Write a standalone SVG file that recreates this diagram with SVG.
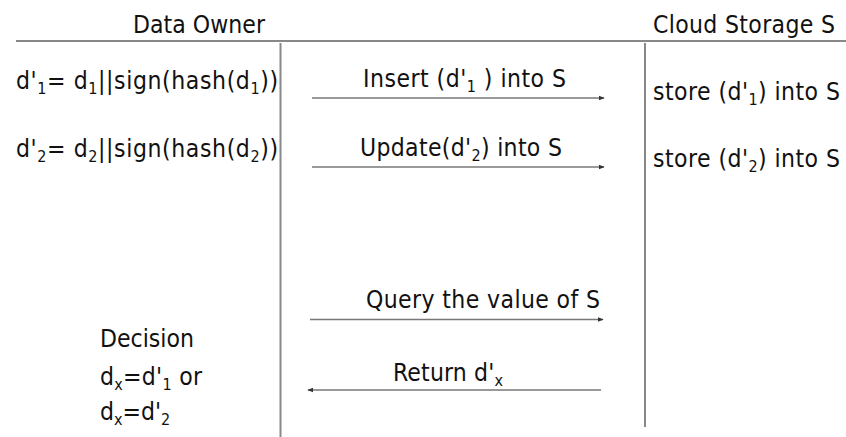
<svg xmlns="http://www.w3.org/2000/svg" width="846" height="437" viewBox="0 0 846 437">
<style>
text{font-family:"DejaVu Sans Condensed","DejaVu Sans",sans-serif;font-size:24.5px;fill:#111}
.sub{font-size:16px}
.ln{stroke:#888;stroke-width:2;fill:none}
.ar{stroke:#777;stroke-width:1.5;fill:none;marker-end:url(#ah)}
</style>
<defs>
<marker id="ah" viewBox="0 0 10 10" refX="9" refY="5" markerWidth="6" markerHeight="6" markerUnits="userSpaceOnUse" orient="auto"><path d="M0,1 L10,5 L0,9 z" fill="#333"/></marker>
</defs>
<g id="frame">
<line class="ln" x1="16" y1="41" x2="846" y2="41"/>
<line class="ln" x1="280.5" y1="43" x2="280.5" y2="437"/>
<line class="ln" x1="645" y1="43" x2="645" y2="427"/>
</g>
<g id="data-owner">
<text x="133" y="33" textLength="132" lengthAdjust="spacing">Data Owner</text>
<text x="16" y="89" textLength="262" lengthAdjust="spacing">d'<tspan class="sub" dy="5">1</tspan><tspan dy="-5">= d</tspan><tspan class="sub" dy="5">1</tspan><tspan dy="-5">||sign(hash(d</tspan><tspan class="sub" dy="5">1</tspan><tspan dy="-5">))</tspan></text>
<text x="16" y="157" textLength="262" lengthAdjust="spacing">d'<tspan class="sub" dy="5">2</tspan><tspan dy="-5">= d</tspan><tspan class="sub" dy="5">2</tspan><tspan dy="-5">||sign(hash(d</tspan><tspan class="sub" dy="5">2</tspan><tspan dy="-5">))</tspan></text>
</g>
<g id="decision">
<text x="100" y="347">Decision</text>
<text x="100" y="385" textLength="102" lengthAdjust="spacing">d<tspan class="sub" dy="5">x</tspan><tspan dy="-5">=d'</tspan><tspan class="sub" dy="5">1</tspan><tspan dy="-5"> or</tspan></text>
<text x="100" y="420">d<tspan class="sub" dy="5">x</tspan><tspan dy="-5">=d'</tspan><tspan class="sub" dy="5">2</tspan></text>
</g>
<g id="cloud-storage">
<text x="653" y="33" textLength="182" lengthAdjust="spacing">Cloud Storage S</text>
<text x="653" y="100" textLength="187" lengthAdjust="spacing">store (d'<tspan class="sub" dy="5">1</tspan><tspan dy="-5">) into S</tspan></text>
<text x="653" y="167" textLength="187" lengthAdjust="spacing">store (d'<tspan class="sub" dy="5">2</tspan><tspan dy="-5">) into S</tspan></text>
</g>
<g id="connectors">
<line class="ar" x1="312" y1="98" x2="604" y2="98"/>
<line class="ar" x1="312" y1="167" x2="604" y2="167"/>
<line class="ar" x1="310" y1="319.5" x2="603" y2="319.5"/>
<line class="ar" x1="601" y1="390" x2="308" y2="390"/>
<text x="363" y="87" textLength="203" lengthAdjust="spacing">Insert (d'<tspan class="sub" dy="5">1</tspan><tspan dy="-5"> ) into S</tspan></text>
<text x="360" y="156" textLength="202" lengthAdjust="spacing">Update(d'<tspan class="sub" dy="5">2</tspan><tspan dy="-5">) into S</tspan></text>
<text x="366" y="308" textLength="234" lengthAdjust="spacing">Query the value of S</text>
<text x="393" y="381" textLength="110" lengthAdjust="spacing">Return d'<tspan class="sub" dy="5">x</tspan></text>
</g>
</svg>
